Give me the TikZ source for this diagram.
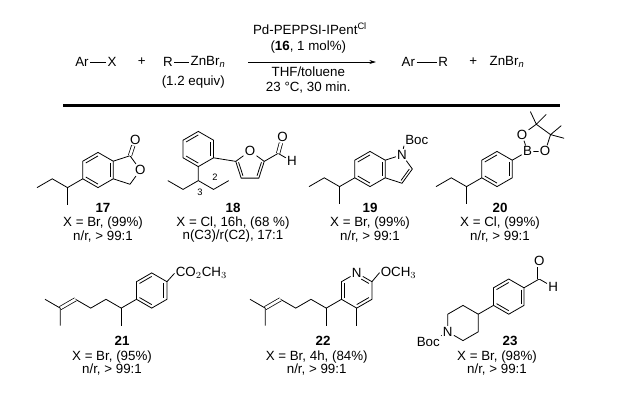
\documentclass[tikz,border=0pt]{standalone}
\usepackage{fontspec}
\setmainfont{Liberation Sans}
\usetikzlibrary{calc,arrows.meta}
\newcommand\hexring[3]{%
  \coordinate (#1) at (#2);
  \foreach \a/\i in {270/1,330/2,30/3,90/4,150/5,210/6}{\coordinate (#1-\i) at ($(#1)+(\a:#3)$);}}
\newcommand\drawhex[1]{\draw[bond] (#1-1)--(#1-2)--(#1-3)--(#1-4)--(#1-5)--(#1-6)--cycle;}
\newcommand\penta[4]{%
  \coordinate (#1) at (#2);
  \foreach \k in {1,...,5}{\coordinate (#1-\k) at ($(#1)+({#4+72*(\k-1)}:#3)$);}}
\newcommand\innerb[3]{\draw[bond] ($(#2)!0.2!(#1)$) -- ($(#3)!0.2!(#1)$);}
\def\BL{17.6}
\begin{document}
\begin{tikzpicture}[x=0.75pt,y=-0.75pt,
  every node/.style={font=\fontsize{10}{12}\selectfont, inner sep=1pt},
  bond/.style={line width=0.6pt},
  dbond/.style={double, double distance=2pt, line width=0.55pt},
  atom/.style={inner sep=0.8pt},
  num/.style={font=\fontsize{7}{8}\selectfont}]
\useasboundingbox (0,0) rectangle (621,401);
% ---------- header ----------
\node (ar1) at (82,62) {Ar};
\node (x1) at (112,62) {X};
\draw[bond] (ar1) -- (x1);
\node (p1) at (141.7,62) {+};
\node (r1) at (168,62) {R};
\node (zn1) at (208,62) {ZnBr$_{\mathit{n}}$};
\draw[bond] (r1) -- (zn1);
\node (eq) at (193.3,81.7) {(1.2 equiv)};
\coordinate (a0) at (248,62);
\coordinate (a1) at (376,62);
\draw[bond,-{Stealth[length=5pt,width=3pt]}] (a0) -- (a1);
\node (c1) at (310,28.3) {Pd-PEPPSI-IPent\textsuperscript{\fontsize{7}{8}\selectfont Cl}};
\node (c2) at (308.3,46.7) {(\textbf{16}, 1 mol\%)};
\node (c3) at (308.3,71.7) {THF/toluene};
\node (c4) at (308.3,87.5) {23 °C, 30 min.};
\node (ar2) at (408.3,62) {Ar};
\node (rr2) at (443.3,62) {R};
\draw[bond] (ar2) -- (rr2);
\node (p2) at (473.3,62) {+};
\node (zn2) at (507,62) {ZnBr$_{\mathit{n}}$};
\coordinate (l0) at (63,105.5);
\coordinate (l1) at (560,105.5);
\draw[line width=1.8pt] (l0) -- (l1);
% ---------- 17 ----------
\hexring{a}{98,170}{\BL}\drawhex{a}
\innerb{a}{a-6}{a-1}\innerb{a}{a-2}{a-3}\innerb{a}{a-4}{a-5}
\penta{pa}{$(a)+(27.35,0)$}{15}{0}
\node[atom] (oa) at (pa-1) {O};
\draw[bond] (a-2) -- (pa-5) -- (oa) -- (pa-2) -- (a-3);
\node[atom] (oa2) at ($(pa-5)+(288:17)$) {O};
\draw[dbond] (pa-5) -- (oa2);
\coordinate (a7) at ($(a-5)+(150:\BL)$);
\coordinate (a8) at ($(a7)+(90:\BL)$);
\coordinate (a9) at ($(a7)+(210:\BL)$);
\coordinate (a10) at ($(a9)+(150:\BL)$);
\draw[bond] (a-5)--(a7)--(a9)--(a10); \draw[bond] (a7)--(a8);
% ---------- 18 ----------
\hexring{b}{198.3,149}{\BL}\drawhex{b}
\innerb{b}{b-6}{b-1}\innerb{b}{b-2}{b-3}\innerb{b}{b-4}{b-5}
\coordinate (b7) at ($(b-4)+(90:14)$);
\coordinate (b8) at ($(b7)+(150:\BL)$);
\coordinate (b9) at ($(b8)+(210:\BL)$);
\coordinate (b10) at ($(b7)+(30:\BL)$);
\coordinate (b11) at ($(b10)+(330:\BL)$);
\draw[bond] (b-4)--(b7)--(b8)--(b9); \draw[bond] (b7)--(b10)--(b11);
\node[num] (n3) at (200,192) {3};
\node[num] (n2) at (215,177.5) {2};
\penta{fu}{250,166}{15}{270}
\node[atom] (ofu) at (fu-1) {O};
\draw[bond] (b-3) -- (fu-5) -- (ofu) -- (fu-2) -- (fu-3) -- (fu-4) -- (fu-5);
\innerb{fu}{fu-4}{fu-5}\innerb{fu}{fu-2}{fu-3}
\coordinate (bc) at ($(fu-2)+(330:16)$);
\node[atom] (bo) at ($(bc)+(285:17)$) {O};
\node[atom] (bh) at ($(bc)+(30:16)$) {H};
\draw[bond] (fu-2) -- (bc) -- (bh); \draw[dbond] (bc) -- (bo);
% ---------- 19 ----------
\hexring{c}{370,169}{\BL}\drawhex{c}
\innerb{c}{c-6}{c-1}\innerb{c}{c-2}{c-3}\innerb{c}{c-4}{c-5}
\penta{pc}{$(c)+(27.35,0)$}{15}{0}
\node[atom] (nc) at (pc-5) {N};
\draw[bond] (c-2) -- (nc) -- (pc-1) -- (pc-2) -- (c-3);
\innerb{pc}{pc-1}{pc-2}
\node[atom,anchor=south west] (boc1) at ($(pc-5)+(2,-9)$) {Boc};
\draw[bond] (nc) -- (boc1.south west);
\coordinate (c7) at ($(c-5)+(150:\BL)$);
\coordinate (c8) at ($(c7)+(90:\BL)$);
\coordinate (c9) at ($(c7)+(210:\BL)$);
\coordinate (c10) at ($(c9)+(150:\BL)$);
\draw[bond] (c-5)--(c7)--(c9)--(c10); \draw[bond] (c7)--(c8);
% ---------- 20 ----------
\hexring{d}{497,169}{\BL}\drawhex{d}
\innerb{d}{d-6}{d-1}\innerb{d}{d-2}{d-3}\innerb{d}{d-4}{d-5}
\coordinate (d7) at ($(d-5)+(150:\BL)$);
\coordinate (d8) at ($(d7)+(90:\BL)$);
\coordinate (d9) at ($(d7)+(210:\BL)$);
\coordinate (d10) at ($(d9)+(150:\BL)$);
\draw[bond] (d-5)--(d7)--(d9)--(d10); \draw[bond] (d7)--(d8);
\coordinate (bpos) at ($(d-2)+(330:\BL)$);
\penta{pd}{$(bpos)+(-54:15)$}{15}{126}
\node[atom] (bb) at (pd-1) {B};
\node[atom] (bo1) at (pd-2) {O};
\node[atom] (bo2) at (pd-5) {O};
\draw[bond] (d-2) -- (bb) -- (bo1) -- (pd-3) -- (pd-4) -- (bo2) -- (bb);
\coordinate (m1) at ($(pd-3)+(245:14)$);
\coordinate (m2) at ($(pd-3)+(315:14)$);
\coordinate (m3) at ($(pd-4)+(320:14)$);
\coordinate (m4) at ($(pd-4)+(15:14)$);
\draw[bond] (m1)--(pd-3)--(m2); \draw[bond] (m3)--(pd-4)--(m4);
% ---------- 21 ----------
\hexring{e}{151.7,290.5}{\BL}\drawhex{e}
\innerb{e}{e-6}{e-1}\innerb{e}{e-2}{e-3}\innerb{e}{e-4}{e-5}
\coordinate (e7) at ($(e-5)+(150:\BL)$);
\coordinate (e8) at ($(e7)+(90:\BL)$);
\coordinate (e9) at ($(e7)+(210:\BL)$);
\coordinate (e10) at ($(e9)+(150:\BL)$);
\coordinate (e11) at ($(e10)+(210:\BL)$);
\coordinate (e12) at ($(e11)+(150:\BL)$);
\coordinate (e13) at ($(e12)+(210:\BL)$);
\coordinate (e14) at ($(e12)+(90:\BL)$);
\draw[bond] (e-5)--(e7)--(e9)--(e10)--(e11); \draw[bond] (e7)--(e8);
\draw[dbond] (e11)--(e12); \draw[bond] (e13)--(e12)--(e14);
\node[atom,anchor=west] (est) at (174.5,273.3) {CO$_2$CH$_3$};
\draw[bond] (e-2) -- (est.west);
% ---------- 22 ----------
\hexring{f}{356.7,290.5}{\BL}
\node[atom] (nf) at (f-1) {N};
\draw[bond] (nf)--(f-2)--(f-3)--(f-4)--(f-5)--(f-6)--(nf);
\innerb{f}{f-5}{f-6}\innerb{f}{f-3}{f-4}
\draw[bond,shorten <=4pt] ($(f-1)!0.2!(f)$) -- ($(f-2)!0.2!(f)$);
\node[atom,anchor=west] (ome) at (379.5,272.7) {OCH$_3$};
\draw[bond] (f-2) -- (ome.west);
\coordinate (f0) at ($(f-4)+(90:\BL)$);
\draw[bond] (f-4)--(f0);
\coordinate (f7) at ($(f-5)+(150:\BL)$);
\coordinate (f8) at ($(f7)+(90:\BL)$);
\coordinate (f9) at ($(f7)+(210:\BL)$);
\coordinate (f10) at ($(f9)+(150:\BL)$);
\coordinate (f11) at ($(f10)+(210:\BL)$);
\coordinate (f12) at ($(f11)+(150:\BL)$);
\coordinate (f13) at ($(f12)+(210:\BL)$);
\coordinate (f14) at ($(f12)+(90:\BL)$);
\draw[bond] (f-5)--(f7)--(f9)--(f10)--(f11); \draw[bond] (f7)--(f8);
\draw[dbond] (f11)--(f12); \draw[bond] (f13)--(f12)--(f14);
% ---------- 23 ----------
\hexring{g}{463,323}{\BL}
\node[atom] (ng) at (g-5) {N};
\draw[bond] (ng)--(g-6)--(g-1)--(g-2)--(g-3)--(g-4)--(ng);
\node[atom] (boc2) at (428.3,341.7) {Boc};
\draw[bond] (ng) -- (boc2.north east);
\coordinate (gi) at ($(g-2)+(330:\BL)$);
\hexring{h}{$(gi)+(330:\BL)$}{\BL}\drawhex{h}
\draw[bond] (g-2) -- (h-5);
\innerb{h}{h-6}{h-1}\innerb{h}{h-2}{h-3}\innerb{h}{h-4}{h-5}
\coordinate (hc) at ($(h-2)+(330:\BL)$);
\node[atom] (ho) at ($(hc)+(270:18)$) {O};
\node[atom] (hh) at ($(hc)+(30:16)$) {H};
\draw[bond] (h-2) -- (hc) -- (hh); \draw[dbond] (hc) -- (ho);
% ---------- labels ----------
\node (l17) at (103,207.5) {\textbf{17}};
\node (t17a) at (103,223) {X = Br, (99\%)};
\node (t17b) at (103,236.5) {n/r, > 99:1};
\node (l18) at (233,207.5) {\textbf{18}};
\node (t18a) at (233,223) {X = Cl, 16h, (68 \%)};
\node (t18b) at (233,236.5) {n(C3)/r(C2), 17:1};
\node (l19) at (370,207.5) {\textbf{19}};
\node (t19a) at (370,223) {X = Br, (99\%)};
\node (t19b) at (370,236.5) {n/r, > 99:1};
\node (l20) at (500,207.5) {\textbf{20}};
\node (t20a) at (500,223) {X = Cl, (99\%)};
\node (t20b) at (500,236.5) {n/r, > 99:1};
\node (l21) at (122,341) {\textbf{21}};
\node (t21a) at (112,357) {X = Br, (95\%)};
\node (t21b) at (112,370) {n/r, > 99:1};
\node (l22) at (323,341) {\textbf{22}};
\node (t22a) at (316.7,357) {X = Br, 4h, (84\%)};
\node (t22b) at (316.7,370) {n/r, > 99:1};
\node (l23) at (510,341) {\textbf{23}};
\node (t23a) at (497,357) {X = Br, (98\%)};
\node (t23b) at (497,370) {n/r, > 99:1};
\end{tikzpicture}
\end{document}
